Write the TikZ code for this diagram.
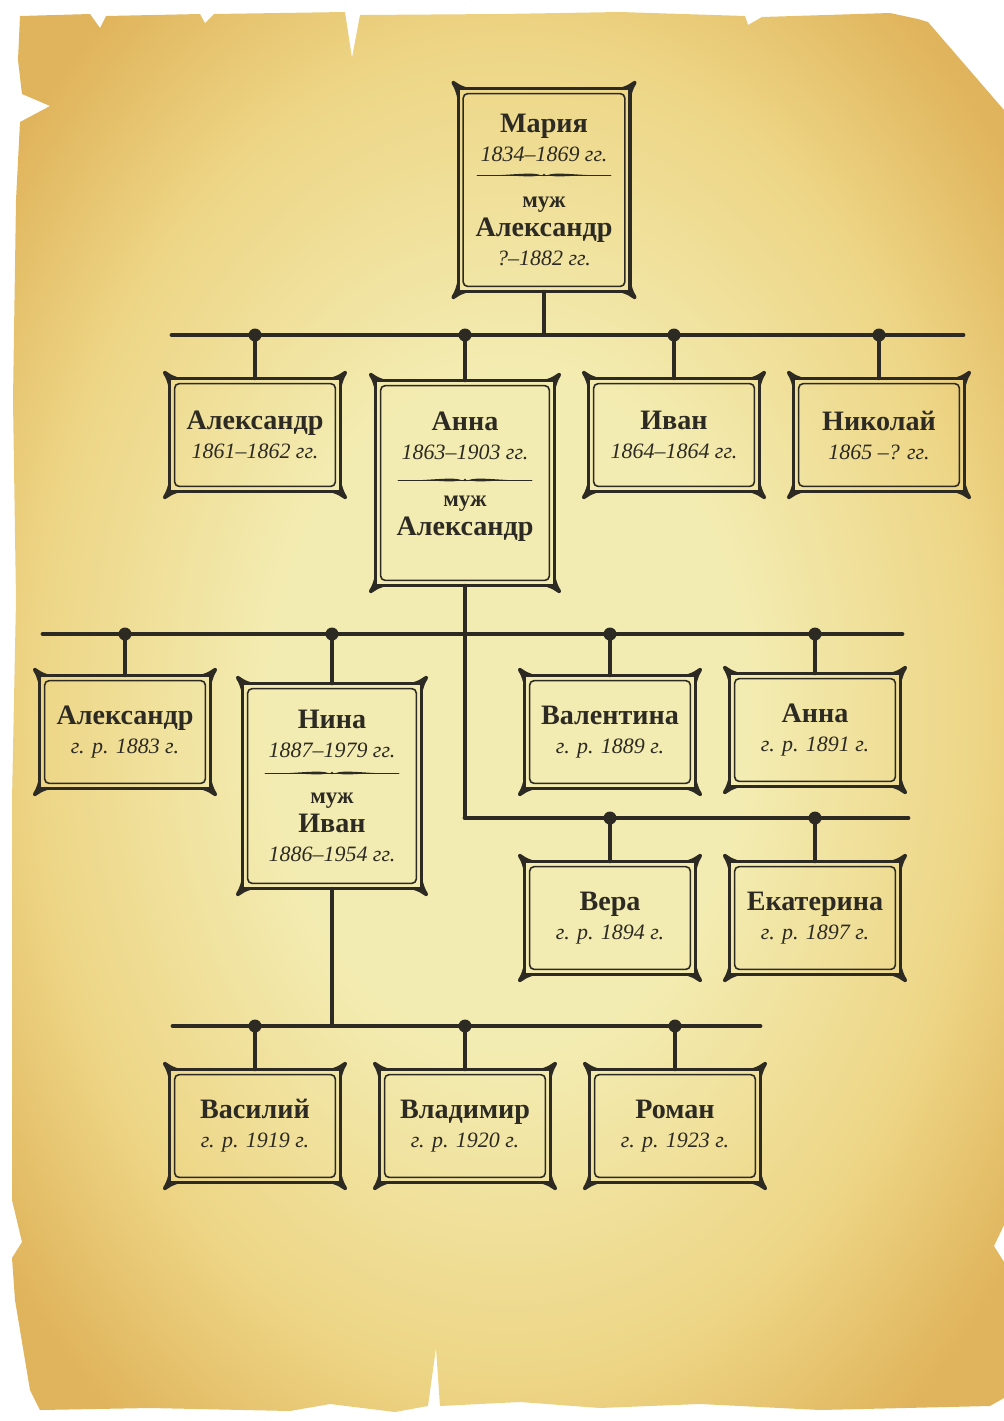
\documentclass[tikz,border=0pt]{standalone}
\usepackage{fontspec}
\setmainfont{Liberation Serif}
\usetikzlibrary{calc,backgrounds}
\definecolor{ink}{HTML}{2C2A22}
\definecolor{paperlight}{HTML}{F3ECB2}
\definecolor{papermid}{HTML}{EDD585}
\definecolor{paperdark}{HTML}{E0B45C}
\definecolor{paperedge}{HTML}{CD9342}
\pgfdeclareradialshading{parchment}{\pgfpoint{0bp}{0bp}}{color(0bp)=(paperlight); color(12bp)=(paperlight); color(24bp)=(papermid); color(32bp)=(paperdark); color(42bp)=(paperdark); color(50bp)=(paperedge)}
\newcommand{\nm}[1]{{\bfseries\fontsize{16}{16.5}\selectfont #1}}
\newcommand{\dt}[1]{{\itshape #1}}
\newcommand{\mz}{{\bfseries\fontsize{13}{16.5}\selectfont муж}}
% frame of a card: thick outer line, corner blobs, thin inner line
\newcommand{\cardframe}[1]{%
  \draw[ink, line width=1.9pt] (#1.north west) rectangle (#1.south east);
  \draw[ink, line width=0.9pt, rounded corners=2.5pt] ($(#1.north west)+(5,5)$) rectangle ($(#1.south east)+(-5,-5)$);
  \foreach \a/\sx/\sy in {north west/1/1, north east/-1/1, south west/1/-1, south east/-1/-1}
    \fill[ink, shift={(#1.\a)}, xscale=\sx, yscale=\sy] (1,22) .. controls (0,10) and (-3,0) .. (-6,-4)
      .. controls (-8,-7) and (-5,-9) .. (-3,-7) .. controls (2,-3) and (10,0) .. (22,1) -- (1,1) -- cycle;
}
\tikzset{
  ornament/.pic={
    \draw[ink, line width=0.5pt] (-67,0) -- (67,0);
    \fill[ink] (-4,0) .. controls (-10,-2.4) and (-22,-1.2) .. (-42,0) .. controls (-22,1.2) and (-10,2.4) .. (-4,0);
    \fill[ink] (4,0) .. controls (10,-2.4) and (22,-1.2) .. (42,0) .. controls (22,1.2) and (10,2.4) .. (4,0);
    \fill[ink] (0,0) circle (1.4);
  }
}
\begin{document}
\begin{tikzpicture}[x=0.02cm, y=-0.02cm, line cap=round, line join=round,
  card/.style={text=ink, align=center, inner sep=0pt, minimum width=3.4cm, minimum height=2.24cm, font=\fontsize{12.5}{16.5}\selectfont},
  tall/.style={minimum width=3.56cm, minimum height=4.08cm},
  bar/.style={ink, line width=2.8pt},
  stem/.style={ink, line width=1.8pt}]
\useasboundingbox (0,0) rectangle (1004,1421);

% cards
\node[card, tall, minimum width=3.42cm, minimum height=4.04cm] (maria) at (544,190)
  {\nm{Мария}\\ \dt{1834–1869 гг.}\\[10pt] \mz\\ \nm{Александр}\\ \dt{?–1882 гг.}};
\node[card] (alexA) at (255,435) {\nm{Александр}\\ \dt{1861–1862 гг.}};
\node[card, tall] (anna) at (465,483) {\nm{Анна}\\ \dt{1863–1903 гг.}\\[10pt] \mz\\ \nm{Александр}\\[-6pt]};
\node[card] (ivan) at (674,435) {\nm{Иван}\\ \dt{1864–1864 гг.}};
\node[card] (nikolai) at (879,435) {\nm{Николай}\\ \dt{1865 –? гг.}};

\node[card] (alexB) at (125,732) {\nm{Александр}\\ \dt{г. р. 1883 г.}};
\node[card, tall] (nina) at (332,786) {\nm{Нина}\\ \dt{1887–1979 гг.}\\[10pt] \mz\\ \nm{Иван}\\ \dt{1886–1954 гг.}};
\node[card] (valentina) at (610,732) {\nm{Валентина}\\ \dt{г. р. 1889 г.}};
\node[card] (annaB) at (815,730) {\nm{Анна}\\ \dt{г. р. 1891 г.}};
\node[card] (vera) at (610,918) {\nm{Вера}\\ \dt{г. р. 1894 г.}};
\node[card] (ekaterina) at (815,918) {\nm{Екатерина}\\ \dt{г. р. 1897 г.}};

\node[card] (vasily) at (255,1126) {\nm{Василий}\\ \dt{г. р. 1919 г.}};
\node[card] (vladimir) at (465,1126) {\nm{Владимир}\\ \dt{г. р. 1920 г.}};
\node[card] (roman) at (675,1126) {\nm{Роман}\\ \dt{г. р. 1923 г.}};

\foreach \n in {maria,alexA,anna,ivan,nikolai,alexB,nina,valentina,annaB,vera,ekaterina,vasily,vladimir,roman}
  {\cardframe{\n}}

\pic at ($(maria.center)+(0,-15)$) {ornament};
\pic at ($(anna.center)+(0,-3)$) {ornament};
\pic at ($(nina.center)+(0,-13)$) {ornament};

% bars
\coordinate (b1l) at (172,335); \coordinate (b1r) at (963,335);
\coordinate (b2l) at (43,634);  \coordinate (b2r) at (902,634);
\coordinate (b3l) at (465,818); \coordinate (b3r) at (908,818);
\coordinate (b4l) at (173,1026); \coordinate (b4r) at (760,1026);
\draw[bar] (b1l) -- (b1r);
\draw[bar] (b2l) -- (b2r);
\draw[bar] (b3l) -- (b3r);
\draw[bar] (b4l) -- (b4r);

% trunks
\draw[stem] (maria.south) -- (maria |- b1l);
\draw[stem] (anna.south) -- (b3l);
\draw[stem] (nina.south) -- (nina |- b4l);

% children
\foreach \c/\b in {alexA/b1l, anna/b1l, ivan/b1l, nikolai/b1l, alexB/b2l, nina/b2l, valentina/b2l, annaB/b2l, vera/b3l, ekaterina/b3l, vasily/b4l, vladimir/b4l, roman/b4l}{
  \fill[ink] (\c |- \b) circle (6.5);
  \draw[stem] (\c |- \b) -- (\c.north);
}

% parchment
\begin{scope}[on background layer]
\shade[shading=parchment] (20,16) -- (90,14) -- (100,28) -- (106,16) -- (200,14) -- (205,23) -- (214,14) -- (345,12)
  -- (352,58) -- (360,15) -- (500,14) -- (620,12) -- (745,16) -- (748,25) -- (762,17) -- (890,13) -- (918,19)
  -- (928,22) -- (1004,110) -- (1004,1225) -- (994,1246) -- (1004,1262) -- (1004,1398) -- (990,1406)
  -- (820,1410) -- (700,1404) -- (600,1408) -- (520,1402) -- (440,1406) -- (436,1348) -- (428,1406)
  -- (395,1412) -- (330,1404) -- (290,1411) -- (150,1408) -- (40,1410) -- (30,1390) -- (15,1300)
  -- (12,1258) -- (22,1242) -- (12,1200) -- (12,800) -- (16,600) -- (13,400) -- (16,200) -- (20,122)
  -- (50,106) -- (22,94) -- (18,60) -- cycle;
\end{scope}
\end{tikzpicture}
\end{document}
